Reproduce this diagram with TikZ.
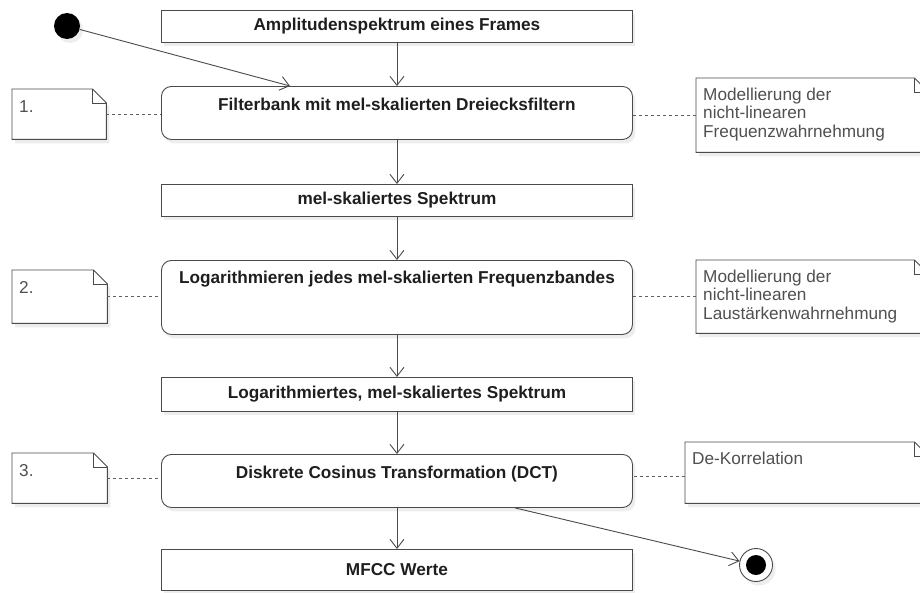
\documentclass[tikz,border=0pt]{standalone}
\usepackage{fontspec}
\setmainfont{Liberation Sans}
\usetikzlibrary{arrows.meta,shadows,calc}
\definecolor{linec}{HTML}{4A4A4A}
\definecolor{textc}{HTML}{1E1E1E}
\definecolor{notec}{HTML}{505050}
\definecolor{dotc}{HTML}{606060}
\tikzset{
  shad/.style={drop shadow={shadow xshift=3pt,shadow yshift=-4pt,fill=black,opacity=0.07}},
  sbox/.style={draw=linec,line width=0.9pt,fill=white,shad,anchor=north west,minimum width=471pt,inner sep=0pt,
    font=\bfseries\fontsize{17.2}{18}\selectfont,text=textc},
  rbox/.style={sbox,rounded corners=10pt},
  btext/.style={font=\bfseries\fontsize{17.2}{18}\selectfont,text=textc,inner sep=0pt,anchor=base},
  notebg/.style={anchor=north west,inner sep=0pt},
  ntext/.style={font=\fontsize{17.2}{18.5}\selectfont,text=notec,inner sep=0pt,anchor=base west,align=left},
  noteline/.style={draw=linec,line width=0.9pt,fill=white},
  flow/.style={draw=linec,line width=0.9pt,-{Straight Barb[length=9pt,width=14pt]}},
  dotl/.style={draw=dotc,line width=1pt,dash pattern=on 3pt off 3pt},
}
\begin{document}
\begin{tikzpicture}[x=1pt,y=-1pt]
\useasboundingbox (0,0) rectangle (920,592);
\clip (0,0) rectangle (920,592);
% main boxes
\node[sbox,minimum height=32pt] (A) at (161,10) {Amplitudenspektrum eines Frames};
\node[rbox,minimum height=53pt] (fb) at (161,86) {};
\node[btext] (fbt) at ([yshift=-24pt]fb.north) {Filterbank mit mel-skalierten Dreiecksfiltern};
\node[sbox,minimum height=32pt] (mel) at (161,184) {mel-skaliertes Spektrum};
\node[rbox,minimum height=74pt] (log) at (161,260) {};
\node[btext] (logt) at ([yshift=-23pt]log.north) {Logarithmieren jedes mel-skalierten Frequenzbandes};
\node[sbox,minimum height=34pt] (log2) at (161,377) {Logarithmiertes, mel-skaliertes Spektrum};
\node[rbox,minimum height=53pt] (dct) at (161,454) {};
\node[btext] (dctt) at ([yshift=-24pt]dct.north) {Diskrete Cosinus Transformation (DCT)};
\node[sbox,minimum height=41pt] (mfcc) at (161,549) {MFCC Werte};
% notes (outline areas)
\node[notebg,minimum width=94pt,minimum height=50pt] (n1) at (12,89) {};
\node[notebg,minimum width=95pt,minimum height=53pt] (n2) at (12,270) {};
\node[notebg,minimum width=95pt,minimum height=50pt] (n3) at (12,453) {};
\node[notebg,minimum width=232pt,minimum height=74pt] (r1) at (696,78) {};
\node[notebg,minimum width=232pt,minimum height=73pt] (r2) at (696,260) {};
\node[notebg,minimum width=243pt,minimum height=61pt] (r3) at (685,442) {};
\foreach \n in {n1,n2,n3,r1,r2,r3}{
  \path[noteline,shad] (\n.south west) -- (\n.north west) -- ([xshift=-14pt]\n.north east)
     -- ([yshift=-14pt]\n.north east) -- (\n.south east) -- cycle;
  \draw[linec,line width=0.9pt] ([xshift=-14pt]\n.north east) |- ([yshift=-14pt]\n.north east);
}
\node[ntext] (n1t) at ([xshift=7pt,yshift=-23pt]n1.north west) {1.};
\node[ntext] (n2t) at ([xshift=7pt,yshift=-23pt]n2.north west) {2.};
\node[ntext] (n3t) at ([xshift=7pt,yshift=-23pt]n3.north west) {3.};
\node[ntext] (r1t) at ([xshift=7pt,yshift=-59pt]r1.north west) {Modellierung der\\nicht-linearen\\Frequenzwahrnehmung};
\node[ntext] (r2t) at ([xshift=7pt,yshift=-59pt]r2.north west) {Modellierung der\\nicht-linearen\\Laustärkenwahrnehmung};
\node[ntext] (r3t) at ([xshift=7pt,yshift=-22pt]r3.north west) {De-Korrelation};
% dotted connectors
\draw[dotl] (n1.east) -- (n1.east -| fb.west);
\draw[dotl] (n2.east) -- (n2.east -| log.west);
\draw[dotl] (n3.east) -- (n3.east -| dct.west);
\draw[dotl] (r1.west) -- (r1.west -| fb.east);
\draw[dotl] (r2.west) -- (r2.west -| log.east);
\draw[dotl] ([yshift=-3.5pt]r3.west) -- ([yshift=-3.5pt]r3.west -| dct.east);
% start / end
\node[circle,fill=black,minimum size=26pt,inner sep=0pt,shad] (start) at (67,26) {};
\node[circle,draw=linec,line width=0.9pt,fill=white,minimum size=33pt,inner sep=0pt,shad] (endc) at (756,565) {};
\node[circle,fill=black,minimum size=20pt,inner sep=0pt] (endi) at (endc) {};
\coordinate (fbin) at ($(fb.north west)+(129,0)$);
\coordinate (dctout) at ($(dct.south west)+(354,0)$);
% flow
\draw[flow] (start) -- (fbin);
\draw[flow] (A.south) -- (fb.north);
\draw[flow] (fb.south) -- (mel.north);
\draw[flow] (mel.south) -- (log.north);
\draw[flow] (log.south) -- (log2.north);
\draw[flow] (log2.south) -- (dct.north);
\draw[flow] (dct.south) -- (mfcc.north);
\draw[flow] (dctout) -- (endc);
\end{tikzpicture}
\end{document}
